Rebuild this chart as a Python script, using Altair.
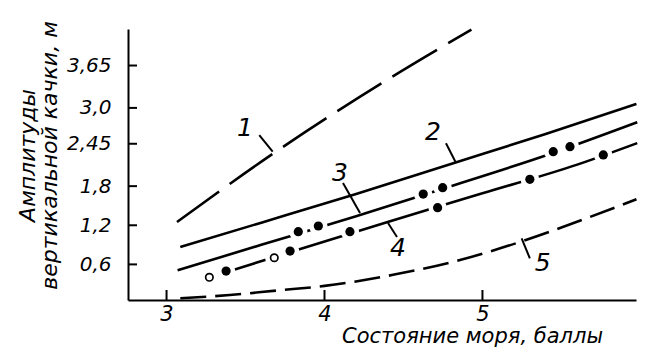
import altair as alt
import pandas as pd

# ---- data ----
x_ticks = [3, 4, 5]
y_ticks = [0.6, 1.2, 1.8, 2.45, 3.0, 3.65]
y_tick_labels = ["0,6", "1,2", "1,8", "2,45", "3,0", "3,65"]

c1_x = [3.066, 3.687, 4.396, 4.93]
c1_y = [1.25, 2.32, 3.43, 4.20]
c2_x = [3.087, 3.6, 4.2, 4.8, 5.4, 5.975]
c2_y = [0.867, 1.24, 1.68, 2.14, 2.60, 3.06]
c3_x = [3.07, 3.6, 4.2, 4.8, 5.4, 5.98]
c3_y = [0.51, 0.90, 1.34, 1.80, 2.27, 2.78]
c4_x = [3.27, 3.8, 4.4, 5.0, 5.6, 5.98]
c4_y = [0.40, 0.80, 1.25, 1.69, 2.13, 2.46]
c5_x = [3.087, 3.4, 3.7, 4.0, 4.434, 4.858, 5.237, 5.68, 5.975]
c5_y = [0.08, 0.13, 0.20, 0.27, 0.44, 0.667, 0.943, 1.327, 1.60]

filled_x = [3.834, 3.961, 4.625, 4.748, 5.448, 5.554, 3.377, 3.782, 4.161, 4.716, 5.30, 5.765]
filled_y = [1.101, 1.189, 1.679, 1.776, 2.328, 2.405, 0.498, 0.805, 1.101, 1.469, 1.905, 2.278]
open_x = [3.271, 3.682]
open_y = [0.402, 0.702]

label_text = ["1", "2", "3", "4", "5"]
label_x = [3.497, 4.687, 4.098, 4.465, 5.382]
label_y = [2.692, 2.635, 2.0, 0.851, 0.621]
lead_x1 = [3.587, 4.769, 4.117, 4.402, 5.248]
lead_y1 = [2.584, 2.457, 1.848, 1.235, 1.0]
lead_x2 = [3.672, 4.832, 4.225, 4.459, 5.30]
lead_y2 = [2.328, 2.16, 1.388, 1.02, 0.693]

x_title = "Состояние моря, баллы"
y_title = ["Амплитуды", "вертикальной качки, м"]

# ---- chart ----
W, H = 508, 271
FONT = "DejaVu Sans"

label_expr = ""
for v, t in zip(y_ticks, y_tick_labels):
    label_expr += f"datum.value == {v} ? '{t}' : "
label_expr += "''"

xaxis = alt.Axis(values=x_ticks, ticks=False, grid=False, domainColor="black", domainWidth=2,
                 labelFont=FONT, labelFontStyle="italic", labelFontSize=21, labelColor="black",
                 labelPadding=3, labelFlush=False, title=x_title, titleFont=FONT,
                 titleFontStyle="italic", titleFontWeight="normal", titleFontSize=21,
                 titleColor="black", titleX=344, titleY=42.5, titleAlign="center",
                 titleBaseline="alphabetic")
yaxis = alt.Axis(values=y_ticks, labelExpr=label_expr, ticks=False, grid=False,
                 domainColor="black", domainWidth=2, labelFont=FONT, labelFontStyle="italic",
                 labelFontSize=20, labelColor="black", labelPadding=17, labelFlush=False,
                 title=y_title, titleFont=FONT, titleFontStyle="italic", titleFontWeight="normal",
                 titleFontSize=22, titleColor="black", titleAngle=270, titleX=-111, titleY=126,
                 titleAlign="center", titleBaseline="top", titleLineHeight=22)

xs = alt.Scale(domain=[2.756, 5.972], nice=False, zero=False)
ys = alt.Scale(domain=[0.054, 4.21], nice=False, zero=False)
X = alt.X("x:Q", scale=xs, axis=xaxis)
Y = alt.Y("y:Q", scale=ys, axis=yaxis)


def curve(xv, yv, dash=None):
    df = pd.DataFrame({"x": xv, "y": yv})
    kw = dict(strokeWidth=2.6, color="black", interpolate="monotone")
    if dash:
        kw["strokeDash"] = dash
    return alt.Chart(df).mark_line(**kw).encode(x=X, y=Y)


l1 = curve(c1_x, c1_y, [52, 13])
l2 = curve(c2_x, c2_y)
l3 = curve(c3_x, c3_y)
l4 = curve(c4_x, c4_y)
l5 = curve(c5_x, c5_y, [26, 9])

dots_all = pd.DataFrame({"x": filled_x + open_x, "y": filled_y + open_y})
halo = alt.Chart(dots_all).mark_point(shape="circle", filled=True, color="white", size=340,
                                      opacity=1).encode(x=X, y=Y)
filled = alt.Chart(pd.DataFrame({"x": filled_x, "y": filled_y})).mark_point(
    shape="circle", filled=True, color="black", size=85, opacity=1).encode(x=X, y=Y)
opened = alt.Chart(pd.DataFrame({"x": open_x, "y": open_y})).mark_point(
    shape="circle", fill="white", stroke="black", strokeWidth=1.7, size=55, opacity=1,
    fillOpacity=1).encode(x=X, y=Y)

leaders = alt.Chart(pd.DataFrame({"x": lead_x1, "y": lead_y1, "x2": lead_x2, "y2": lead_y2})).mark_rule(
    strokeWidth=2, color="black").encode(x=X, y=Y, x2="x2:Q", y2="y2:Q")
labels = alt.Chart(pd.DataFrame({"x": label_x, "y": label_y, "t": label_text})).mark_text(
    font=FONT, fontStyle="italic", fontSize=25, color="black", align="center",
    baseline="middle").encode(x=X, y=Y, text="t:N")

xt = alt.Chart(pd.DataFrame({"x": x_ticks})).mark_rule(strokeWidth=2, color="black").encode(
    x=X, y=alt.value(H), y2=alt.value(H - 10))
yt = alt.Chart(pd.DataFrame({"y": y_ticks})).mark_rule(strokeWidth=2, color="black").encode(
    y=Y, x=alt.value(0), x2=alt.value(9))

chart = alt.layer(l1, l2, l3, l4, l5, halo, filled, opened, leaders, labels, xt, yt).properties(
    width=W, height=H,
    autosize=alt.AutoSizeParams(type="none"),
    padding={"left": 120, "top": 21, "right": 2, "bottom": 47},
).configure_view(stroke=None)

chart.save("out.html", embed_options={"renderer": "svg", "actions": False})
